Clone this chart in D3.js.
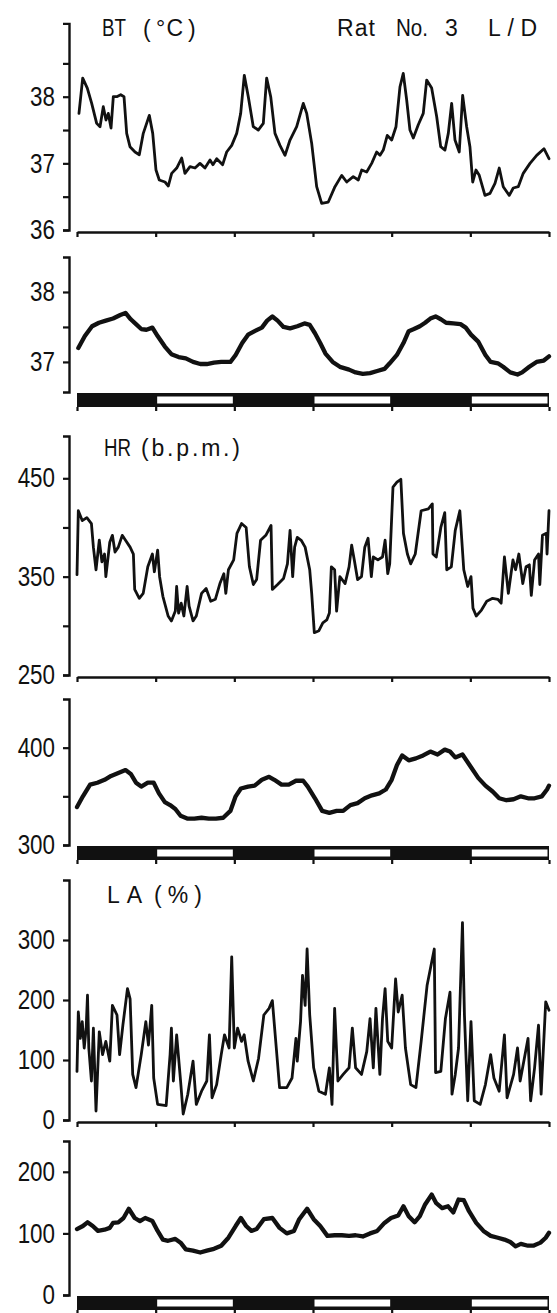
<!DOCTYPE html>
<html><head><meta charset="utf-8">
<script src="https://cdn.jsdelivr.net/npm/d3@7"></script>
<style>
html,body{margin:0;padding:0;background:#fff;}
svg{display:block;}
text{font-family:"Liberation Sans",Arial,sans-serif;fill:#111;}
</style></head>
<body>
<svg id="chart" width="557" height="1313"></svg>
<script>
// ---- DATA (hours since start, 0–72 h; L/D 12:12, starting with dark) ----
const btRawH = [0.3,0.87,1.57,2.24,3.0,3.51,4.01,4.42,4.77,5.19,5.54,6.06,6.67,7.17,7.58,8.08,8.85,9.5,10.11,11.03,11.55,12.05,12.55,13.42,13.93,14.44,15.21,15.97,16.47,17.24,18.0,18.76,19.52,20.29,20.74,21.31,22.22,22.83,23.6,24.36,24.97,25.52,26.13,26.89,27.65,28.42,28.93,29.55,30.2,30.96,31.73,32.49,33.51,34.52,35.04,35.8,36.56,37.32,38.33,39.35,40.38,41.14,42.14,42.91,43.43,44.19,44.95,45.71,46.22,46.72,47.33,48.0,48.66,49.27,49.77,50.29,50.79,51.3,52.06,52.82,53.34,54.1,54.87,55.48,56.13,56.64,57.15,57.66,58.31,58.83,59.44,59.94,60.36,60.86,61.36,62.23,63.0,63.76,64.41,65.02,65.94,66.55,67.31,68.07,69.1,70.12,71.23,72.0];
const btRawV = [37.75,38.28,38.13,37.9,37.6,37.55,37.85,37.65,37.75,37.53,38.0,38.0,38.03,38.0,37.45,37.25,37.17,37.13,37.45,37.72,37.45,36.9,36.75,36.72,36.66,36.85,36.93,37.08,36.85,36.95,36.93,37.0,36.93,37.05,36.98,37.07,36.98,37.17,37.27,37.45,37.75,38.32,38.0,37.55,37.5,37.6,38.28,38.0,37.45,37.27,37.12,37.35,37.55,37.9,37.75,37.3,36.65,36.4,36.42,36.65,36.82,36.72,36.8,36.75,36.9,36.87,37.0,37.17,37.12,37.2,37.42,37.35,37.55,38.15,38.35,37.95,37.5,37.38,37.58,37.75,38.25,38.13,37.7,37.25,37.2,37.45,37.9,37.35,37.17,38.02,37.55,37.25,36.72,36.9,36.82,36.52,36.55,36.7,36.93,36.65,36.52,36.63,36.65,36.85,37.0,37.12,37.22,37.07];

const btSmH = [0.2,1.2,2.3,3.35,4.4,5.5,6.6,7.4,8.2,9.0,9.8,10.6,11.5,12.3,13.4,14.4,15.5,16.6,17.7,18.8,19.8,20.9,22.0,23.4,24.2,25.2,26.1,27.1,28.2,29.0,29.8,30.6,31.5,32.5,33.6,34.7,35.5,36.3,37.1,37.9,39.0,40.1,41.5,42.5,43.6,44.7,45.8,46.9,47.7,48.8,49.8,50.6,51.4,52.3,53.1,53.9,54.7,55.5,56.3,57.4,58.5,59.3,60.1,61.2,62.3,63.1,64.2,65.0,66.1,67.2,67.9,69.0,70.1,71.2,72.0];
const btSmV = [37.2,37.37,37.51,37.56,37.59,37.62,37.67,37.7,37.61,37.54,37.47,37.46,37.49,37.37,37.22,37.11,37.07,37.05,37.0,36.97,36.97,36.99,37.0,37.0,37.1,37.27,37.39,37.44,37.49,37.59,37.65,37.59,37.5,37.48,37.51,37.55,37.53,37.41,37.27,37.12,37.0,36.93,36.89,36.85,36.83,36.84,36.87,36.9,36.98,37.1,37.27,37.44,37.47,37.51,37.56,37.62,37.65,37.61,37.56,37.55,37.54,37.49,37.39,37.29,37.1,37.0,36.98,36.93,36.85,36.82,36.85,36.93,37.0,37.02,37.08];

const hrRawH = [0,0.2,0.8,1.5,2.2,2.5,2.9,3.4,3.8,4.2,4.4,5.0,5.4,5.8,6.3,6.9,7.4,8.1,8.6,8.8,9.5,10.1,10.8,11.5,11.8,12.3,12.6,13.1,13.9,14.4,15.0,15.2,15.5,15.9,16.3,16.8,17.1,17.7,18.2,19.0,19.7,20.4,21.1,21.8,22.4,22.7,23.1,23.9,24.4,25.1,25.8,26.3,26.9,27.4,28.0,28.8,29.6,29.8,30.6,31.5,32.1,32.5,32.9,33.2,33.6,34.2,34.8,35.5,35.8,36.2,36.9,37.5,38.1,38.5,38.8,39.3,39.6,40.1,40.9,41.5,41.9,42.3,42.8,43.4,43.9,44.4,44.9,45.2,45.9,46.6,47.0,47.4,47.7,48.2,48.8,49.4,49.8,50.4,50.9,51.6,52.5,53.6,54.2,54.3,54.8,55.5,56.1,56.4,57.1,57.7,58.4,59.0,59.6,60.1,60.4,60.9,61.7,62.5,63.4,64.2,64.7,65.2,65.8,66.5,66.9,67.4,68.0,68.5,69.0,69.3,69.8,70.4,70.6,71.0,71.6,71.7,72.0];
const hrRawV = [352,417,407,410,404,380,357,387,365,373,350,385,392,375,380,392,387,380,373,337,328,333,360,373,355,377,350,330,310,305,315,340,313,323,310,340,320,305,310,333,338,325,327,343,353,333,357,367,394,404,400,360,342,347,387,392,402,337,342,348,363,397,350,380,390,387,380,357,333,293,295,303,306,313,360,357,315,350,343,360,382,367,347,350,380,389,350,370,367,370,387,353,363,441,446,449,394,373,363,373,417,419,424,373,370,400,415,357,360,397,417,357,340,350,318,310,316,325,328,327,323,370,333,367,357,373,343,360,362,331,367,373,342,392,394,373,417];

const hrSmH = [0,0.9,2.0,3.1,4.2,5.2,6.3,7.4,8.2,9.0,9.8,10.8,11.7,12.5,13.4,14.2,15.0,15.8,16.9,17.9,19.0,20.1,21.2,22.3,23.4,24.2,25.0,26.1,27.1,28.2,29.3,30.1,31.2,32.3,33.4,34.5,35.2,36.3,37.4,38.5,39.6,40.6,41.7,42.8,43.9,45.0,46.1,47.1,48.0,48.8,49.6,50.6,51.7,52.8,53.9,55.0,56.1,56.9,57.7,58.8,59.8,61.2,62.3,63.4,64.4,65.5,66.6,67.7,68.8,69.8,70.9,71.7,72.0];
const hrSmV = [339,350,362,364,367,371,374,377,373,364,360,364,364,353,344,341,337,330,327,327,328,327,327,328,335,350,358,360,361,367,370,367,362,362,366,366,360,348,335,333,335,335,341,343,348,351,353,357,367,382,392,387,389,392,396,393,398,396,390,393,383,369,361,355,348,346,347,350,348,348,350,357,361];

const laRawH = [0,0.2,0.5,0.8,1.1,1.4,1.6,1.8,2.2,2.5,2.9,3.4,3.9,4.4,5.0,5.4,6.1,6.5,7.0,7.7,8.1,8.5,9.0,9.8,10.5,10.9,11.4,11.7,12.3,13.6,14.2,14.4,14.7,15.2,15.8,16.2,16.9,17.7,18.2,19.0,19.8,20.2,20.6,21.3,22.0,22.5,23.2,23.6,24.0,24.5,25.1,25.5,26.1,26.9,27.7,28.5,29.3,29.8,30.4,30.9,32.0,32.8,33.4,33.6,34.1,34.4,34.8,35.1,35.5,36.1,36.9,37.9,38.5,38.9,39.3,39.8,40.6,41.5,42.0,42.5,43.4,44.2,44.7,45.2,45.6,46.2,46.6,47.0,47.4,48.0,48.6,49.0,49.6,50.1,50.9,51.7,52.5,53.4,54.5,54.7,55.5,56.2,56.9,57.2,57.7,58.2,58.8,59.1,59.6,60.1,60.6,61.5,62.3,63.1,63.6,64.4,65.2,65.6,66.6,67.2,67.6,68.8,69.2,69.8,70.4,70.8,71.5,72.0];
const laRawV = [81,180,136,164,120,153,208,120,65,153,15,147,109,131,98,191,175,109,158,219,202,76,54,109,164,125,191,70,26,24,109,153,65,142,65,10,43,98,26,48,65,142,37,59,109,142,120,272,120,153,131,142,98,65,103,175,186,199,120,54,54,70,136,98,164,241,191,285,175,87,48,43,87,26,186,65,76,87,153,87,76,114,169,87,186,76,169,219,131,120,235,180,208,120,59,54,131,224,285,79,81,169,213,43,76,120,329,175,32,164,32,26,59,109,70,48,142,37,76,120,65,136,32,87,158,43,197,183];

const laSmH = [0,0.9,1.6,2.4,3.2,4.2,5.0,5.5,6.3,7.1,7.9,8.8,9.6,10.4,11.5,12.3,13.1,13.9,15.0,15.8,16.6,17.7,18.8,19.8,20.9,22.0,23.1,24.2,25.0,25.8,26.6,27.4,28.5,29.8,30.9,32.0,33.1,33.9,35.1,36.1,37.1,38.2,39.3,40.4,41.5,42.5,43.6,44.7,45.8,46.9,47.9,49.0,49.8,50.6,51.5,52.3,53.1,54.1,54.8,55.7,56.6,57.4,58.2,59.0,59.8,60.9,62.0,63.1,64.2,65.2,66.1,66.9,67.7,68.8,69.6,70.7,71.5,72.0];
const laSmV = [107,112,118,112,104,106,109,117,118,125,140,125,120,125,120,104,90,88,91,85,74,72,69,72,75,80,93,112,125,112,104,107,123,125,109,100,104,123,140,123,112,96,97,97,96,97,95,100,104,117,125,129,144,128,118,128,147,163,149,141,144,134,155,154,136,117,104,96,93,90,86,79,83,80,80,85,93,101];

// tick values
const btRawMajor = [36,37,38], btRawMinor = [36.5,37.5,38.5];
const btSmMajor = [37,38], btSmMinor = [37.5];
const hrRawMajor = [250,350,450], hrRawMinor = [300,400];
const hrSmMajor = [300,400], hrSmMinor = [350];
const laRawMajor = [0,100,200,300], laRawMinor = [];
const laSmMajor = [0,100,200], laSmMinor = [];
const hourTicks = [0,12,24,36,48,60,72];
const ldStart = [0,12,24,36,48,60];
const ldPhase = ["D","L","D","L","D","L"];

// title words
const titleWords = ["BT","(","°C",")","Rat","No.","3","L/D","HR","(b.p.m.)","LA","(%)"];

// ---- LAYOUT ----
const svg = d3.select("#chart");
const x = d3.scaleLinear().domain([0,72]).range([77,549]);
const AX = 69;
const NARROW = 0.83;

const panels = [
  {h:btRawH, v:btRawV, dom:[36,39.1], rng:[230,23.4], major:btRawMajor, minor:btRawMinor, raw:true},
  {h:btSmH, v:btSmV, dom:[36.57,38.5], rng:[392,257], major:btSmMajor, minor:btSmMinor, raw:false},
  {h:hrRawH, v:hrRawV, dom:[250,493], rng:[675,436], major:hrRawMajor, minor:hrRawMinor, raw:true},
  {h:hrSmH, v:hrSmV, dom:[300,450], rng:[845,699], major:hrSmMajor, minor:hrSmMinor, raw:false},
  {h:laRawH, v:laRawV, dom:[0,400], rng:[1120,880], major:laRawMajor, minor:laRawMinor, raw:true},
  {h:laSmH, v:laSmV, dom:[0,250], rng:[1295,1141], major:laSmMajor, minor:laSmMinor, raw:false}
];

panels.forEach(p => {
  const y = d3.scaleLinear().domain(p.dom).range(p.rng);
  const ticks = p.major.concat(p.minor).sort((a,b)=>a-b);
  const gy = svg.append("g").attr("transform", `translate(${AX},0)`)
    .call(d3.axisLeft(y).tickValues(ticks).tickSize(6).tickSizeOuter(6).tickPadding(8)
      .tickFormat(d => p.major.includes(d) ? String(d) : ""));
  gy.select(".domain").attr("stroke","#111").attr("stroke-width",2.4).attr("fill","none");
  gy.selectAll(".tick line").attr("stroke","#111").attr("stroke-width",2.2);
  gy.selectAll(".tick text")
    .attr("font-size", 27).attr("font-family", '"Liberation Sans",Arial,sans-serif')
    .attr("fill","#111")
    .attr("x", -14/NARROW).attr("transform", `scale(${NARROW},1)`);

  const y0 = p.rng[0];
  if (p.raw) {
    const gx = svg.append("g").attr("transform", `translate(0,${y0+2})`)
      .call(d3.axisBottom(x).tickValues(hourTicks).tickSize(5).tickSizeOuter(0).tickFormat(""));
    gx.select(".domain").attr("stroke","#111").attr("stroke-width",2.4);
    gx.selectAll(".tick line").attr("stroke","#111").attr("stroke-width",2.2);
  } else {
    const top = y0 + 1, bh = 14;
    svg.append("rect").attr("x", x(0)).attr("y", top).attr("width", x(72)-x(0)).attr("height", bh).attr("fill","#111");
    ldStart.forEach((s,i) => {
      if (ldPhase[i] === "L") {
        svg.append("rect").attr("x", x(s)+1.5).attr("y", top+3.5)
          .attr("width", x(s+12)-x(s)-3).attr("height", bh-7).attr("fill","#fff");
      }
    });
    const gx = svg.append("g").attr("transform", `translate(0,${top+bh})`)
      .call(d3.axisBottom(x).tickValues(hourTicks).tickSize(4).tickSizeOuter(0).tickFormat(""));
    gx.select(".domain").attr("stroke","none");
    gx.selectAll(".tick line").attr("stroke","#111").attr("stroke-width",2.2);
  }

  const line = d3.line().x((d,i)=>x(p.h[i])).y((d,i)=>y(p.v[i]));
  svg.append("path").datum(p.v).attr("d", line)
    .attr("fill","none").attr("stroke","#111")
    .attr("stroke-width", p.raw ? 2.8 : 4.3)
    .attr("stroke-linejoin","round").attr("stroke-linecap","round");
});

// titles: word placement (x, baseline, width)
const wordPos = [
  [102,36,24],[143,37,0],[156,36,27],[188,37,0],
  [337,36,38],[396,36,32],[445,36,0],[488,36,49],
  [104,456,27],[141,456,99],
  [107,903,35],[154,903,48]
];
titleWords.forEach((w,i) => {
  const [tx,ty,tw] = wordPos[i];
  const t = svg.append("text").attr("x", tx).attr("y", ty).attr("font-size", 23).text(w);
  if (tw > 0 && w.length > 1) {
    const nat = t.node().getComputedTextLength();
    t.attr("textLength", tw).attr("lengthAdjust", nat > tw ? "spacingAndGlyphs" : "spacing");
  }
});
</script>
</body></html>
